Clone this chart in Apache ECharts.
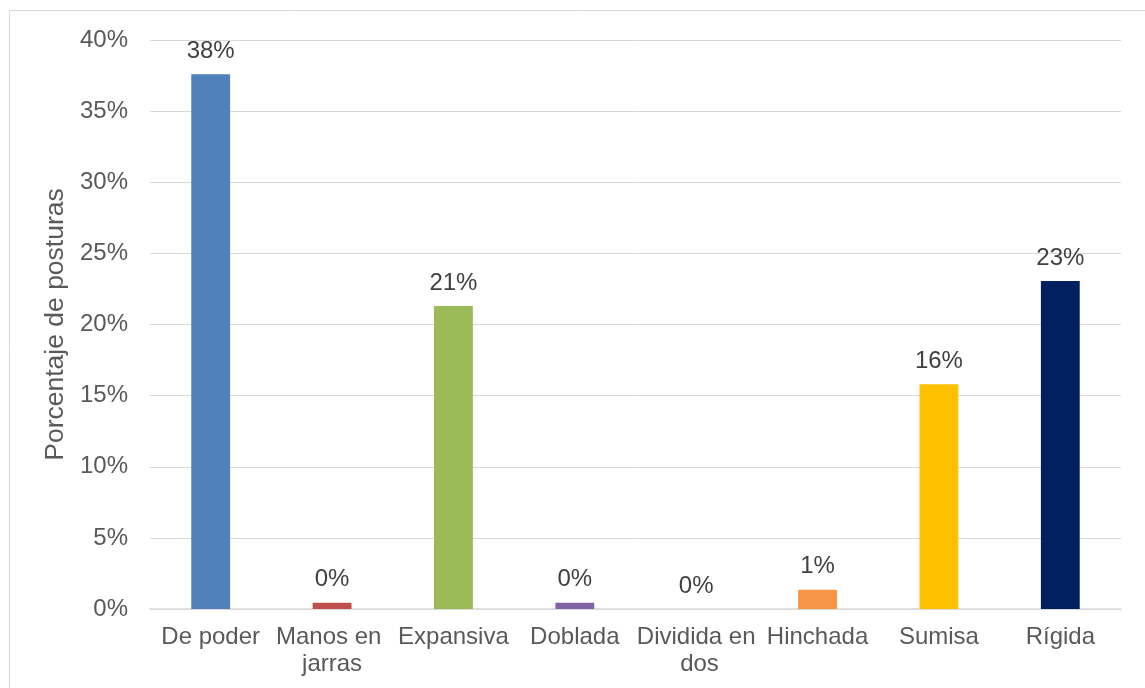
<!DOCTYPE html>
<html>
<head>
<meta charset="utf-8">
<script src="https://cdn.jsdelivr.net/npm/echarts@6/dist/echarts.min.js"></script>
<style>
  html, body { margin: 0; padding: 0; background: #fff; }
  #chart { width: 1145px; height: 688px; }
</style>
</head>
<body>
<div id="chart"></div>
<script>
// Postural categories and the share of postures observed in each (percent)
const categories = ['De poder', 'Manos en jarras', 'Expansiva', 'Doblada', 'Dividida en dos', 'Hinchada', 'Sumisa', 'Rígida'];
const values = [37.6, 0.44, 21.3, 0.44, 0, 1.36, 15.8, 23.06];
const barColors = ['#4F81BD', '#C0504D', '#9BBB59', '#8064A2', '#4BACC6', '#F79646', '#FFC000', '#002060'];
const yTicks = { min: 0, max: 40, interval: 5 };
const yTitle = 'Porcentaje de posturas';

const font = 'Liberation Sans, Arial, sans-serif';
const chart = echarts.init(document.getElementById('chart'), null, { renderer: 'canvas' });

chart.setOption({
  animation: false,
  backgroundColor: '#ffffff',
  graphic: [{
    type: 'rect',
    silent: true,
    shape: { x: 9.5, y: 10.5, width: 1400, height: 1000 },
    style: { fill: 'none', stroke: '#d9d9d9', lineWidth: 1 }
  }],
  grid: { left: 150, right: 24, top: 40, bottom: 79, containLabel: false },
  xAxis: {
    type: 'category',
    data: categories,
    axisLine: { show: true, lineStyle: { color: '#d9d9d9', width: 1.5 } },
    axisTick: { show: false },
    axisLabel: {
      interval: 0,
      color: '#595959',
      fontFamily: font,
      fontSize: 24,
      margin: 15,
      lineHeight: 27,
      width: 124,
      overflow: 'break'
    }
  },
  yAxis: {
    type: 'value',
    min: yTicks.min,
    max: yTicks.max,
    interval: yTicks.interval,
    name: yTitle,
    nameLocation: 'middle',
    nameGap: 71,
    nameRotate: 90,
    nameTextStyle: { color: '#595959', fontFamily: font, fontSize: 26.5 },
    axisLine: { show: false },
    axisTick: { show: false },
    splitLine: { lineStyle: { color: '#d9d9d9', width: 1 } },
    axisLabel: {
      color: '#595959',
      fontFamily: font,
      fontSize: 24,
      margin: 22,
      formatter: v => v + '%'
    }
  },
  series: [{
    type: 'bar',
    barWidth: '32%',
    data: values.map((v, i) => ({ value: v, itemStyle: { color: barColors[i] } })),
    label: {
      show: true,
      position: 'top',
      distance: 11,
      color: '#404040',
      fontFamily: font,
      fontSize: 24,
      formatter: p => Math.round(p.value) + '%'
    }
  }]
});
</script>
</body>
</html>
